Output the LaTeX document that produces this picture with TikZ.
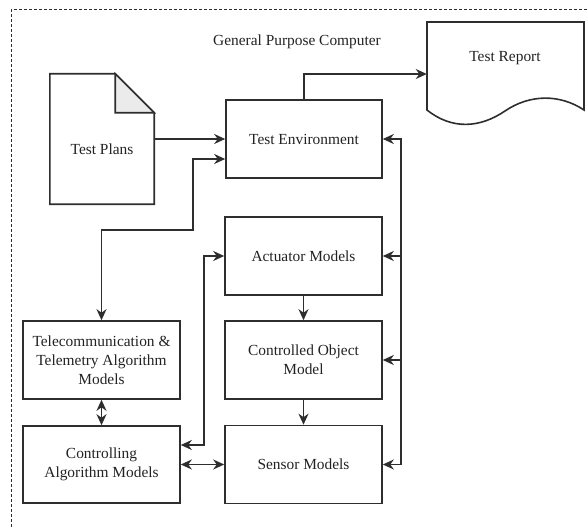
\documentclass[tikz,border=0pt]{standalone}
\usepackage{fontspec}
\setmainfont{Liberation Serif}
\usetikzlibrary{arrows.meta,calc}
\definecolor{ln}{HTML}{2E2E2E}
\definecolor{tx}{HTML}{222222}
\definecolor{foldc}{HTML}{EBEBEB}
\begin{document}
\begin{tikzpicture}[x=1pt,y=-1pt,
  box/.style={draw=ln, line width=1.6pt, minimum width=157pt, minimum height=78pt, align=center, font=\fontsize{15.4}{19}\selectfont, text=tx, inner sep=0pt},
  ghost/.style={inner sep=0pt},
  lbl/.style={font=\fontsize{15.4}{19}\selectfont, text=tx, align=center, inner sep=0pt},
  conn/.style={draw=ln, line width=1.6pt, >={Stealth[length=11pt,width=10pt,inset=3.5pt]}},
  shp/.style={draw=ln, line width=1.6pt, line join=miter}
]
\useasboundingbox (0,0) rectangle (587,527);
% outer dashed frame (continues beyond the picture)
\draw[ln, line width=1pt, dash pattern=on 3pt off 2pt] (11,527) -- (11,10) -- (587,10);

\node[lbl] (title) at (297,42) {General Purpose Computer};

% boxes
\node[box, minimum width=156pt] (env) at (304,139) {Test Environment};
\node[box] (act) at (303.5,256) {Actuator Models};
\node[box] (cobj) at (303.5,360) {Controlled Object\\Model};
\node[box] (sens) at (303.5,464.5) {Sensor Models};
\node[box] (tele) at (101.5,360) {Telecommunication \&\\Telemetry Algorithm\\Models};
\node[box, minimum height=77pt] (ctrl) at (101.5,464.5) {Controlling\\Algorithm Models};

% Test Plans (document with folded corner)
\node[ghost, minimum width=104pt, minimum height=130pt] (plans) at (102,139) {};
\draw[shp, fill=white] (plans.south west) -- (plans.north west) -- ([xshift=-39pt]plans.north east) -- ([yshift=-39pt]plans.north east) -- (plans.south east) -- cycle;
\draw[shp, fill=foldc] ([xshift=-39pt]plans.north east) -- ([xshift=-39pt,yshift=-39pt]plans.north east) -- ([yshift=-39pt]plans.north east) -- cycle;
\node[lbl] (plantext) at (102,149) {Test Plans};

% Test Report (document with wavy bottom)
\node[ghost, minimum width=157pt, minimum height=104pt] (report) at (505.5,74) {};
\draw[shp] (427,22) -- (584,22) -- (584,110) .. controls (560,94) and (530,94) .. (505,111) .. controls (480,128) and (452,130) .. (427,110) -- cycle;
\node[lbl] (reporttext) at (505,58) {Test Report};

% connectors
\draw[conn,->] (plans.east) -- (env.west);
\draw[conn,->] (env.north) |- (report.west);
\draw[conn,<->] ([yshift=-20pt]env.west) -| (193,230) -| (tele.north);
\draw[conn,<->] (act.west) -- ++(-20,0) |- ([yshift=19.5pt]ctrl.east);
\draw[conn,<->] (ctrl.east) -- (sens.west);
\draw[conn,<->] (tele.south) -- (ctrl.north);
\draw[conn,->] (act.south) -- (cobj.north);
\draw[conn,->] (cobj.south) -- (sens.north);
\coordinate (bus) at (401,139);
\draw[conn,<->] (env.east) -- (bus) |- (sens.east);
\draw[conn,->] (act.east -| bus) -- (act.east);
\draw[conn,->] (cobj.east -| bus) -- (cobj.east);
\end{tikzpicture}
\end{document}
